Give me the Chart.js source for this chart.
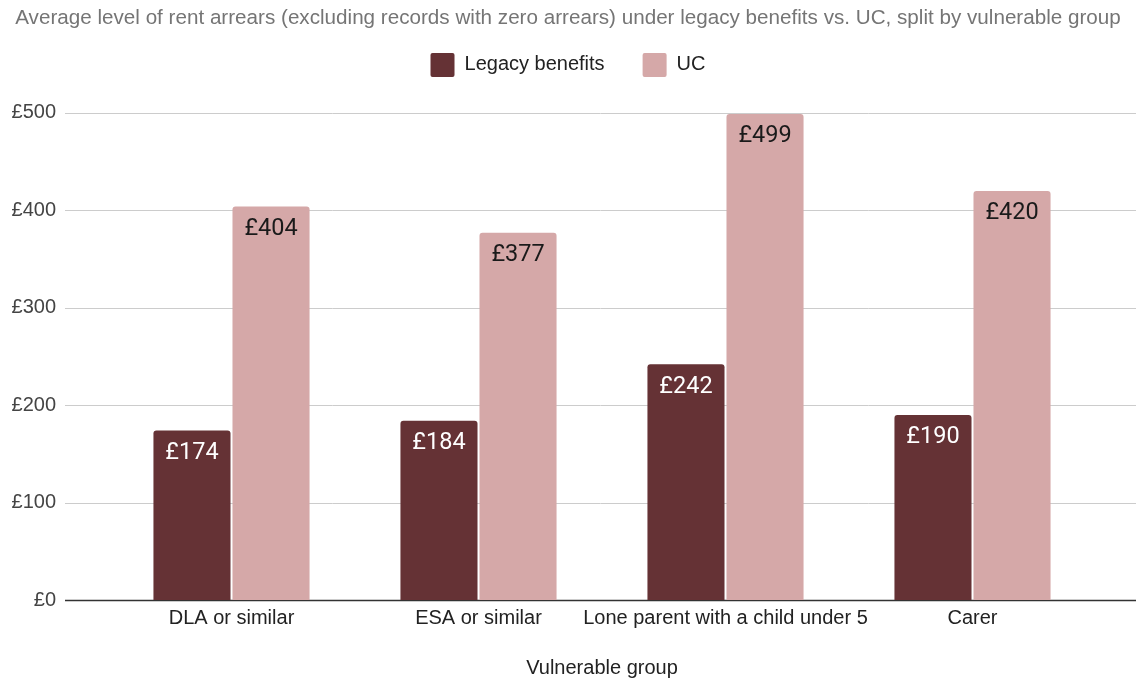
<!DOCTYPE html>
<html>
<head>
<meta charset="utf-8">
<script src="https://cdn.jsdelivr.net/npm/chart.js@4"></script>
<style>
  html, body { margin: 0; padding: 0; background: #fff; }
  #wrap { width: 1136px; height: 682px; }
</style>
</head>
<body>
<div id="wrap"><canvas id="chart" width="1136" height="682"></canvas></div>
<script>
// Data
const groups = ['DLA or similar', 'ESA or similar', 'Lone parent with a child under 5', 'Carer'];
const legacyValues = [174, 184, 242, 190];
const ucValues = [404, 377, 499, 420];
const yTicks = [0, 100, 200, 300, 400, 500];

const FONT = '"Liberation Sans", Arial, sans-serif';

// Gridlines in the reference run wider than the bar area, so draw them here
const wideGrid = {
    id: 'wideGrid',
    beforeDatasetsDraw(chart) {
        const ctx = chart.ctx;
        const y = chart.scales.y;
        ctx.save();
        yTicks.forEach(v => {
            const py = Math.round(y.getPixelForValue(v)) + 0.5;
            ctx.beginPath();
            ctx.strokeStyle = v === 0 ? '#333333' : '#cccccc';
            ctx.lineWidth = v === 0 ? 1.5 : 1;
            ctx.moveTo(65, py);
            ctx.lineTo(chart.width, py);
            ctx.stroke();
        });
        ctx.restore();
    }
};

// Value labels inside the top of each bar
const barLabels = {
    id: 'barLabels',
    afterDatasetsDraw(chart) {
        const ctx = chart.ctx;
        ctx.save();
        ctx.font = '23.5px Roboto, sans-serif';
        ctx.textAlign = 'center';
        ctx.textBaseline = 'middle';
        chart.data.datasets.forEach((ds, i) => {
            ctx.fillStyle = i === 0 ? '#ffffff' : '#1a1a1a';
            chart.getDatasetMeta(i).data.forEach((bar, j) => {
                ctx.fillText('£' + ds.data[j], bar.x, bar.y + 22.5);
            });
        });
        ctx.restore();
    }
};

new Chart(document.getElementById('chart'), {
    type: 'bar',
    data: {
        labels: groups,
        datasets: [
            {
                label: 'Legacy benefits',
                data: legacyValues,
                backgroundColor: '#653235',
                borderRadius: { topLeft: 3, topRight: 3 },
                borderSkipped: 'bottom',
                categoryPercentage: 0.64,
                barPercentage: 0.975
            },
            {
                label: 'UC',
                data: ucValues,
                backgroundColor: '#d5a8a8',
                borderRadius: { topLeft: 3, topRight: 3 },
                borderSkipped: 'bottom',
                categoryPercentage: 0.64,
                barPercentage: 0.975
            }
        ]
    },
    options: {
        responsive: false,
        animation: false,
        layout: { padding: { left: 0, right: 0, top: 0, bottom: 2 } },
        plugins: {
            title: {
                display: true,
                text: 'Average level of rent arrears (excluding records with zero arrears) under legacy benefits vs. UC, split by vulnerable group',
                color: '#757575',
                font: { family: FONT, size: 20.65, weight: 'normal' },
                padding: { top: 6, bottom: -15.8 }
            },
            // empty spacer that sits between the legend and the plot
            subtitle: {
                display: true,
                text: ' ',
                weight: 500,
                font: { size: 1 },
                padding: { top: 0, bottom: 24.8 }
            },
            legend: {
                display: true,
                labels: {
                    color: '#222222',
                    font: { family: FONT, size: 20 },
                    boxWidth: 24,
                    boxHeight: 24,
                    padding: 38,
                    useBorderRadius: true,
                    borderRadius: 2
                }
            },
            tooltip: { enabled: false }
        },
        scales: {
            x: {
                grid: { display: false, drawTicks: false },
                border: { display: false },
                ticks: {
                    color: '#222222',
                    font: { family: FONT, size: 20 },
                    padding: 6,
                    maxRotation: 0,
                    autoSkip: false
                },
                title: {
                    display: true,
                    text: 'Vulnerable group',
                    color: '#222222',
                    font: { family: FONT, size: 20 },
                    padding: { top: 20, bottom: 0 }
                }
            },
            y: {
                min: 0,
                max: 500,
                afterFit(scale) { scale.width = 108; },
                afterBuildTicks(scale) { scale.ticks = yTicks.map(v => ({ value: v })); },
                grid: { display: false, drawTicks: false },
                border: { display: false },
                ticks: {
                    color: '#444444',
                    font: { family: FONT, size: 20 },
                    padding: 52,
                    callback: v => '£' + v
                }
            },
            // blank strip on the right so the bars sit where they do in the reference
            yRight: {
                position: 'right',
                min: 0,
                max: 500,
                afterFit(scale) { scale.width = 40; },
                grid: { display: false, drawTicks: false },
                border: { display: false },
                ticks: { display: false }
            }
        }
    },
    plugins: [wideGrid, barLabels]
});
</script>
</body>
</html>
